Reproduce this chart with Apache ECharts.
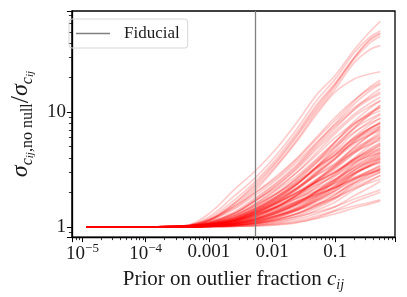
<!DOCTYPE html>
<html><head><meta charset="utf-8">
<script src="https://cdn.jsdelivr.net/npm/echarts@6/dist/echarts.min.js"></script>
<style>html,body{margin:0;padding:0;background:#fff}#c{width:407px;height:297px}</style>
</head><body><div id="c"></div>
<script>
// x grid: prior on outlier fraction c_ij
const priorX = [1.16e-5, 1e-4, 4e-4, 1e-3, 2.5e-3, 5.5e-3, 0.012, 0.025, 0.05, 0.1, 0.2, 0.35, 0.517];
const fiducialPrior = 0.0055;

// upper bundle
const t1 = [1,1,1.02,1.3,2.1,3.1,4.9,8.2,14,21,35,50,62];
const t2 = [1,1,1.01,1.22,1.85,2.7,4.3,7.2,12.5,19.5,33,45,51];
const t3 = [1,1,1.01,1.18,1.7,2.5,4.0,6.7,11.5,18,30,42,48];
const t4 = [1,1,1.01,1.15,1.6,2.3,3.7,6.2,10.5,17,29,40,46];
const t5 = [1,1,1.01,1.13,1.55,2.2,3.5,5.8,10,16,27,35,38];
const t6 = [1,1,1.01,1.12,1.5,2.1,3.4,5.6,9.5,15,19.5,21.5,22.5];
const t7 = [1,1,1.01,1.14,1.6,2.4,3.8,6.4,11,17.5,30,43,49];

// main group
const m1 = [1,1,1.02,1.15,1.45,2.0,2.7,3.9,5.8,8.5,12.5,16.5,19];
const m2 = [1,1,1.01,1.1,1.35,1.8,2.45,3.5,5.3,8.0,11.8,15.3,17.5];
const m3 = [1,1,1.01,1.08,1.3,1.7,2.3,3.3,4.9,7.2,10.6,13.8,16];
const m4 = [1,1,1.01,1.09,1.32,1.75,2.4,3.4,5.1,7.5,10.5,12.9,14.5];
const m5 = [1,1,1.01,1.07,1.25,1.6,2.15,3.0,4.4,6.5,9.2,11.2,12.6];
const m6 = [1,1,1.00,1.05,1.2,1.5,1.95,2.7,3.8,5.5,7.9,9.9,11.4];
const m7 = [1,1,1.01,1.1,1.3,1.7,2.2,3.0,4.2,6.0,8.0,9.4,10.3];
const m8 = [1,1,1.00,1.04,1.15,1.4,1.8,2.4,3.3,4.6,6.6,8.3,9.5];
const m9 = [1,1,1.01,1.06,1.22,1.52,1.95,2.6,3.6,5.0,6.7,8.0,8.8];
const m10 = [1,1,1.00,1.03,1.12,1.32,1.65,2.15,2.95,4.0,5.7,7.2,8.2];
const m11 = [1,1,1.01,1.06,1.2,1.45,1.85,2.4,3.3,4.5,6.0,7.2,7.9];
const m12 = [1,1,1.00,1.02,1.08,1.22,1.48,1.9,2.5,3.4,4.9,6.3,7.4];
const m13 = [1,1,1.01,1.04,1.15,1.35,1.68,2.15,2.9,3.9,5.3,6.5,7.2];
const m14 = [1,1,1.01,1.08,1.25,1.55,1.95,2.5,3.3,4.2,5.4,6.3,6.9];
const m15 = [1,1,1.00,1.03,1.1,1.25,1.5,1.9,2.45,3.2,4.4,5.6,6.5];
const m16 = [1,1,1.01,1.05,1.16,1.38,1.7,2.15,2.8,3.6,4.8,5.7,6.3];
const m17 = [1,1,1.00,1.02,1.07,1.18,1.38,1.7,2.2,2.9,4.0,5.1,5.9];
const m18 = [1,1,1.01,1.06,1.2,1.43,1.75,2.2,2.8,3.5,4.5,5.2,5.7];
const m19 = [1,1,1.00,1.03,1.1,1.24,1.45,1.78,2.25,2.9,3.9,4.8,5.4];
const m20 = [1,1,1.01,1.04,1.12,1.28,1.5,1.85,2.35,3.0,3.9,4.6,5.1];
const m21 = [1,1,1.00,1.01,1.04,1.1,1.24,1.47,1.85,2.5,3.5,4.3,4.9];
const m22 = [1,1,1.01,1.05,1.15,1.33,1.6,1.95,2.45,3.0,3.8,4.35,4.7];
const m23 = [1,1,1.00,1.02,1.07,1.17,1.35,1.62,2.03,2.6,3.4,4.05,4.5];
const m24 = [1,1,1.01,1.06,1.18,1.38,1.65,2.0,2.45,3.0,3.7,4.15,4.4];
const m25 = [1,1,1.00,1.01,1.04,1.1,1.22,1.42,1.78,2.3,3.1,3.8,4.3];
const m26 = [1,1,1.00,1.02,1.08,1.19,1.38,1.65,2.03,2.55,3.3,3.85,4.2];
const m27 = [1,1,1.01,1.04,1.12,1.28,1.5,1.8,2.15,2.6,3.25,3.7,4.0];
const m28 = [1,1,1.00,1.01,1.04,1.09,1.2,1.38,1.68,2.1,2.85,3.45,3.9];
const m29 = [1,1,1.00,1.02,1.07,1.16,1.32,1.55,1.88,2.3,2.95,3.4,3.7];
const m30 = [1,1,1.01,1.04,1.13,1.29,1.5,1.77,2.05,2.4,2.95,3.35,3.6];
const m31 = [1,1,1.00,1.01,1.03,1.07,1.15,1.3,1.55,1.9,2.55,3.05,3.4];
const m32 = [1,1,1.00,1.02,1.06,1.14,1.27,1.45,1.72,2.05,2.6,2.95,3.2];
const m33 = [1,1,1.01,1.04,1.12,1.27,1.46,1.68,1.92,2.2,2.6,2.9,3.1];
const m34 = [1,1,1.00,1.01,1.03,1.08,1.17,1.3,1.5,1.8,2.3,2.7,3.0];
const m35 = [1,1,1.00,1.01,1.02,1.05,1.11,1.21,1.39,1.65,2.1,2.5,2.8];
const m36 = [1,1,1.00,1.02,1.06,1.13,1.25,1.4,1.58,1.8,2.15,2.42,2.6];
const m37 = [1,1,1.00,1.01,1.02,1.04,1.09,1.17,1.3,1.5,1.87,2.2,2.5];
const m38 = [1,1,1.00,1.01,1.03,1.07,1.14,1.23,1.35,1.5,1.75,1.95,2.1];
const m39 = [1,1,1.00,1.00,1.01,1.03,1.07,1.13,1.24,1.4,1.65,1.85,2.0];
const m40 = [1,1,1.00,1.00,1.01,1.02,1.04,1.09,1.2,1.37,1.52,1.63,1.72];
const m41 = [1,1,1.00,1.00,1.01,1.02,1.05,1.1,1.18,1.3,1.46,1.58,1.68];
const m42 = [1,1,1.01,1.05,1.18,1.45,1.85,2.5,3.6,5.5,8.3,10.8,12.5];
const m43 = [1,1,1.00,1.04,1.15,1.4,1.78,2.35,3.35,5.0,7.4,9.5,11.0];
const m44 = [1,1,1.01,1.07,1.24,1.55,2.0,2.65,3.7,5.2,7.2,8.7,9.7];
const m45 = [1,1,1.00,1.03,1.12,1.33,1.68,2.2,3.05,4.2,6.1,7.7,8.9];
const m46 = [1,1,1.01,1.05,1.18,1.42,1.8,2.35,3.2,4.3,5.8,6.9,7.6];
const m47 = [1,1,1.00,1.02,1.09,1.24,1.5,1.9,2.5,3.3,4.6,5.8,6.7];
const m48 = [1,1,1.01,1.04,1.14,1.33,1.62,2.0,2.55,3.3,4.4,5.3,6.0];
const m49 = [1,1,1.00,1.02,1.06,1.15,1.32,1.58,2.0,2.6,3.6,4.5,5.2];
const m50 = [1,1,1.01,1.04,1.13,1.3,1.55,1.87,2.3,2.8,3.6,4.2,4.6];
const m51 = [1,1,1.00,1.02,1.07,1.17,1.35,1.6,1.95,2.4,3.15,3.7,4.1];
const m52 = [1,1,1.00,1.01,1.05,1.12,1.26,1.47,1.77,2.15,2.85,3.4,3.8];
const m53 = [1,1,1.01,1.03,1.1,1.23,1.42,1.65,1.9,2.2,2.7,3.05,3.3];
const m54 = [1,1,1.00,1.02,1.05,1.12,1.25,1.42,1.65,1.95,2.4,2.75,3.0];
const m55 = [1,1,1.00,1.01,1.03,1.07,1.16,1.3,1.52,1.8,2.4,2.85,3.2];
const m56 = [1,1,1.02,1.15,1.5,2.0,2.8,4.0,6.0,9.0,12.8,16,18];
const m57 = [1,1,1.02,1.12,1.42,1.9,2.6,3.7,5.4,7.8,11,13.3,15];
const m58 = [1,1,1.01,1.08,1.3,1.7,2.3,3.2,4.7,6.8,9.6,11.9,13.5];
const m59 = [1,1,1.01,1.05,1.16,1.38,1.72,2.2,2.95,4.0,5.5,6.7,7.5];
const m60 = [1,1,1.00,1.03,1.1,1.26,1.52,1.92,2.55,3.5,5.0,6.3,7.1];
const m61 = [1,1,1.01,1.04,1.13,1.31,1.6,2.0,2.6,3.4,4.6,5.5,6.1];
const m62 = [1,1,1.00,1.02,1.06,1.15,1.32,1.6,2.05,2.75,3.8,4.7,5.3];
const m63 = [1,1,1.01,1.05,1.15,1.35,1.62,1.98,2.45,3.05,3.9,4.5,4.8];
const m64 = [1,1,1.00,1.02,1.07,1.17,1.34,1.58,1.95,2.5,3.3,3.95,4.4];
const m65 = [1,1,1.00,1.01,1.04,1.1,1.21,1.4,1.72,2.2,2.95,3.55,4.0];
const m66 = [1,1,1.01,1.03,1.09,1.21,1.4,1.65,2.0,2.45,3.1,3.6,3.9];
const m67 = [1,1,1.00,1.02,1.05,1.12,1.24,1.42,1.68,2.05,2.65,3.1,3.45];
const m68 = [1,1,1.00,1.01,1.03,1.08,1.17,1.32,1.56,1.9,2.45,2.9,3.2];
const m69 = [1,1,1.01,1.03,1.08,1.19,1.36,1.58,1.85,2.2,2.65,2.95,3.1];
const m70 = [1,1,1.00,1.02,1.06,1.15,1.3,1.52,1.82,2.25,2.9,3.4,3.7];
const m71 = [1,1,1.01,1.06,1.2,1.46,1.85,2.4,3.2,4.3,5.9,7.2,8.0];
const m72 = [1,1,1.00,1.03,1.11,1.3,1.62,2.1,2.85,3.9,5.6,7.1,8.1];
const m73 = [1,1,1.01,1.07,1.26,1.6,2.1,2.8,3.9,5.5,7.8,9.8,11.0];
const m74 = [1,1,1.00,1.04,1.14,1.37,1.75,2.35,3.3,4.8,7.2,9.5,11.5];
const m75 = [1,1,1.00,1.01,1.03,1.06,1.13,1.25,1.45,1.75,2.2,2.55,2.8];

const curves = [t1,t2,t3,t4,t5,t6,t7,
  m1,m2,m3,m4,m5,m6,m7,m8,m9,m10,m11,m12,m13,m14,m15,m16,m17,m18,m19,m20,
  m21,m22,m23,m24,m25,m26,m27,m28,m29,m30,m31,m32,m33,m34,m35,m36,m37,m38,m39,m40,
  m41,m42,m43,m44,m45,m46,m47,m48,m49,m50,m51,m52,m53,m54,m55,m56,m57,m58,m59,m60,
  m61,m62,m63,m64,m65,m66,m67,m68,m69,m70,m71,m72,m73,m74,m75];

// axis ranges and tick labels
const xRange = [6.79e-6, 0.883];
const yRange = [0.814, 76.2];
const xTickExp = [-5, -4, -3, -2, -1];
const xTickText = ['{b|10}{s|\u22125}', '{b|10}{s|\u22124}', '0.001', '0.01', '0.1'];
const yTickExp = [0, 1];
const yTickText = ['1', '10'];

const SERIF = '"Liberation Serif", "DejaVu Serif", serif';
const INK = '#1a1a1a';

function fmt(exps, texts) {
  return function (v) {
    const l = Math.log10(v), e = Math.round(l);
    if (Math.abs(l - e) > 1e-6) return '';
    const i = exps.indexOf(e);
    return i < 0 ? '' : texts[i];
  };
}

const series = curves.map(function (c) {
  return {
    type: 'line', silent: true, symbol: 'none', smooth: 0.35,
    lineStyle: { color: 'rgba(255,0,0,0.2)', width: 1.7 },
    data: priorX.map(function (x, i) { return [x, c[i]]; })
  };
});
series.push({
  name: 'Fiducial', type: 'line', symbol: 'none', data: [],
  color: '#808080',
  lineStyle: { color: '#808080', width: 1.3 },
  itemStyle: { color: '#808080' },
  markLine: {
    silent: true, symbol: 'none', label: { show: false },
    lineStyle: { color: '#808080', width: 1.3, type: 'solid' },
    data: [[{ coord: [fiducialPrior, yRange[0]] }, { coord: [fiducialPrior, yRange[1]] }]]
  },
  z: 5
});

const chart = echarts.init(document.getElementById('c'), null, { renderer: 'canvas' });
chart.setOption({
  animation: false,
  backgroundColor: '#fff',
  grid: { left: 60, right: 12, top: 11, bottom: 59, show: true, borderColor: '#000', borderWidth: 1.3, backgroundColor: 'transparent' },
  legend: {
    data: [{ name: 'Fiducial', icon: 'rect' }], left: 69, top: 19, orient: 'vertical',
    itemWidth: 34, itemHeight: 1.6,
    padding: [6, 8, 6, 7],
    borderColor: '#d6d6d6', borderWidth: 1, borderRadius: 3,
    textStyle: { fontFamily: SERIF, fontSize: 17, color: INK, padding: [0, 0, 0, 9] }
  },
  xAxis: {
    type: 'log', logBase: 10, min: xRange[0], max: xRange[1],
    axisLine: { show: true, lineStyle: { color: '#000', width: 1.3 } },
    axisTick: { show: true, length: 5, lineStyle: { color: '#000', width: 1 } },
    minorTick: { show: true, splitNumber: 9, length: 3, lineStyle: { color: '#000', width: 0.8 } },
    splitLine: { show: false },
    minorSplitLine: { show: false },
    axisLabel: {
      formatter: fmt(xTickExp, xTickText), margin: 5, color: INK,
      fontFamily: SERIF, fontSize: 19, showMinLabel: false, showMaxLabel: false,
      rich: {
        b: { fontFamily: SERIF, fontSize: 19, lineHeight: 24, color: INK },
        s: { fontFamily: SERIF, fontSize: 13, lineHeight: 13, verticalAlign: 'top', color: INK }
      }
    },
    name: '{t|Prior on outlier fraction }{c|c}{ij|ij}',
    nameLocation: 'middle', nameGap: 25,
    nameTextStyle: {
      rich: {
        t: { fontFamily: SERIF, fontSize: 21, lineHeight: 26, color: INK },
        c: { fontFamily: SERIF, fontStyle: 'italic', fontSize: 21, lineHeight: 26, color: INK },
        ij: { fontFamily: SERIF, fontStyle: 'italic', fontSize: 14, lineHeight: 15, verticalAlign: 'bottom', color: INK }
      }
    }
  },
  yAxis: {
    type: 'log', logBase: 10, min: yRange[0], max: yRange[1], splitNumber: 2,
    axisLine: { show: true, lineStyle: { color: '#000', width: 1.3 } },
    axisTick: { show: true, length: 5, lineStyle: { color: '#000', width: 1 } },
    minorTick: { show: true, splitNumber: 9, length: 3, lineStyle: { color: '#000', width: 0.8 } },
    splitLine: { show: false },
    minorSplitLine: { show: false },
    axisLabel: {
      formatter: fmt(yTickExp, yTickText), margin: 6, color: INK,
      fontFamily: SERIF, fontSize: 19, showMinLabel: false, showMaxLabel: false
    },
    name: '{s|\u03c3}{c|c}{ij|ij}{nn|,no null}{sl|/}{s|\u03c3}{c|c}{ij|ij}',
    nameLocation: 'middle', nameRotate: 90, nameGap: 26,
    nameTextStyle: {
      rich: {
        s: { fontFamily: SERIF, fontStyle: 'italic', fontSize: 24, lineHeight: 30, color: INK },
        sl: { fontFamily: SERIF, fontSize: 26, lineHeight: 30, color: INK },
        c: { fontFamily: SERIF, fontStyle: 'italic', fontSize: 16, lineHeight: 18, verticalAlign: 'bottom', color: INK },
        ij: { fontFamily: SERIF, fontStyle: 'italic', fontSize: 11, lineHeight: 12, verticalAlign: 'bottom', color: INK },
        nn: { fontFamily: SERIF, fontSize: 16, lineHeight: 18, verticalAlign: 'bottom', color: INK }
      }
    }
  },
  series: series
});
</script>
</body></html>
